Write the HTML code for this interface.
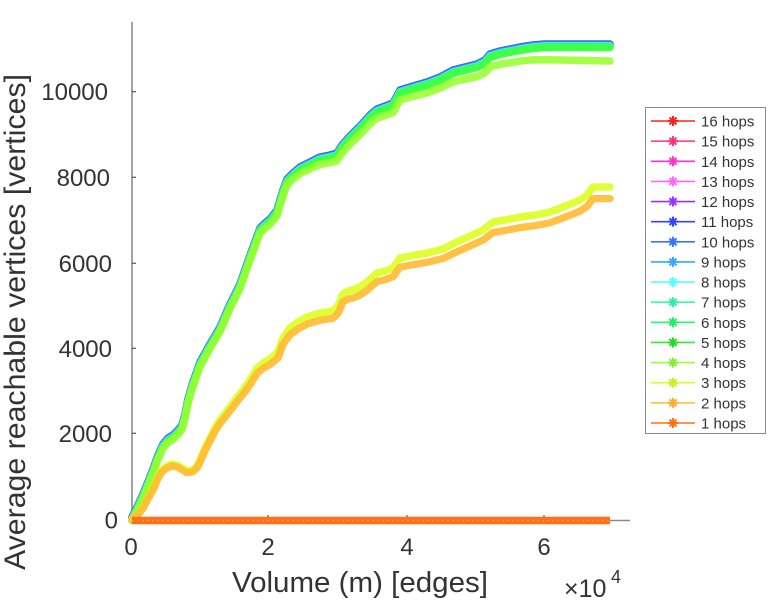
<!DOCTYPE html>
<html>
<head>
<meta charset="utf-8">
<style>
  html,body{margin:0;padding:0;background:#fff;}
  svg{display:block;}
  text{font-family:"Liberation Sans",Arial,sans-serif;fill:#333;}
</style>
</head>
<body>
<svg width="768" height="600" viewBox="0 0 768 600" xmlns="http://www.w3.org/2000/svg">
  <defs>
    <path id="up" fill="none" stroke-linejoin="round" stroke-linecap="round" d="M132,520 L138,508 L143,497 L148,485 L153,472 L158,458 L163,447 L168,441 L173,438 L178,433 L182,428 L185,417 L188,402 L192,388 L200,365 L210,347 L220,330 L230,307 L240,287 L247,267 L253,250 L260,231 L265,226 L270,222 L277,213 L283,193 L287,182 L293,176 L300,170 L310,165 L320,160 L330,158 L337,156 L342,148 L350,139 L360,129 L370,118 L377,112 L385,109 L393,106 L400,93 L410,90 L427,85 L440,80 L453,73 L465,70 L477,67 L485,63 L490,57 L500,54 L510,52 L520,50 L533,48 L545,47 L560,47 L610,47"/>
    <path id="up4" fill="none" stroke-linejoin="round" stroke-linecap="round" d="M132,520 L138,509.5 L143,498.5 L148,486.5 L153,473.5 L158,459.5 L163,448.5 L168,442.5 L173,439.5 L178,434.5 L182,429.5 L185,418.5 L188,403.5 L192,389.5 L200,366.5 L210,348.5 L220,331.5 L230,308.5 L240,288.5 L247,268.5 L253,252.1 L260,233.3 L265,228.5 L270,224.7 L277,215.9 L283,196.1 L287,185.2 L293,179.4 L300,173.7 L310,169 L320,164.3 L330,162.7 L337,160.9 L342,153.1 L350,144.3 L360,134.7 L370,124 L377,118.2 L385,115.5 L393,112.8 L400,100 L410,97.3 L427,92.9 L440,88.3 L453,81.8 L465,79.2 L477,76.6 L485,72.8 L490,67 L500,64.3 L510,62.7 L520,61 L533,59.8 L545,59.8 L560,60 L610,61"/>
    <path id="lo" fill="none" stroke-linejoin="round" stroke-linecap="round" d="M132,519 L138,514 L143,508 L148,498 L153,489 L158,477 L162,470 L167,466 L172,464 L177,465 L182,468 L187,471 L193,470 L197,466 L200,460 L205,448 L210,438 L215,428 L220,420 L227,411 L233,403 L238,396 L243,390 L250,380 L257,368 L263,363 L270,359 L278,352 L283,338 L290,328 L298,322 L307,317 L320,313 L333,311 L338,306 L343,294 L348,291 L353,290 L360,287 L367,282 L377,273 L385,271 L393,268 L400,258 L410,256 L427,253 L443,249 L457,242 L470,236 L483,230 L493,222 L505,220 L520,217 L535,215 L550,212 L563,207 L573,203 L580,200 L587,195 L593,187 L610,187"/>
  </defs>

  <!-- axes -->
  <line x1="132" y1="22" x2="132" y2="520.5" stroke="#8a8a8a" stroke-width="1.6"/>
  <line x1="132" y1="520.5" x2="630" y2="520.5" stroke="#8a8a8a" stroke-width="1.6"/>
  <g stroke="#555" stroke-width="1.2">
    <line x1="132" y1="433.3" x2="136" y2="433.3"/>
    <line x1="132" y1="348.3" x2="136" y2="348.3"/>
    <line x1="132" y1="263.3" x2="136" y2="263.3"/>
    <line x1="132" y1="177.3" x2="136" y2="177.3"/>
    <line x1="132" y1="91.7" x2="136" y2="91.7"/>
    <line x1="268" y1="520" x2="268" y2="515"/>
    <line x1="407" y1="520" x2="407" y2="515"/>
    <line x1="544" y1="520" x2="544" y2="515"/>
  </g>

  <!-- series (drawn 16 -> 1) -->
  <g stroke-width="7.5" stroke-opacity="0.9">
    <use href="#up" stroke="#ff2020" transform="translate(0,-2)"/>
    <use href="#up" stroke="#ff3377" transform="translate(0,-2)"/>
    <use href="#up" stroke="#ff33cc" transform="translate(0,-2)"/>
    <use href="#up" stroke="#ff66ff" transform="translate(0,-2)"/>
    <use href="#up" stroke="#9933ff" transform="translate(0,-2.5)"/>
    <use href="#up" stroke="#3344ff" transform="translate(0,-3)"/>
    <use href="#up" stroke="#3377ff" transform="translate(0,-2.5)"/>
    <use href="#up" stroke="#33aaff" transform="translate(0,-1.5)"/>
    <use href="#up" stroke="#55ffff" transform="translate(0,-1)"/>
    <use href="#up" stroke="#33ffaa" transform="translate(0,-0.5)"/>
    <use href="#up" stroke="#22ff66" transform="translate(0,0)"/>
    <use href="#up" stroke="#44ff44" transform="translate(0,0.5)"/>
    <use href="#up4" stroke="#99ff33"/>
    <use href="#lo" stroke="#ddff22"/>
    <use href="#lo" stroke="#ffbb33" vector-effect="non-scaling-stroke" transform="translate(0,520) scale(1,0.965) translate(0,-520)"/>
  </g>
  <line x1="132" y1="520.5" x2="610" y2="520.5" stroke="#ff7018" stroke-width="7.5"/>
  <line x1="132" y1="520.5" x2="610" y2="520.5" stroke="#ff9a50" stroke-width="1" stroke-dasharray="2 3"/>

  <!-- y tick labels -->
  <g font-size="24" text-anchor="end">
    <text x="118" y="528.5">0</text>
    <text x="112" y="441.8">2000</text>
    <text x="112" y="356.8">4000</text>
    <text x="112" y="271.8">6000</text>
    <text x="110" y="185.8">8000</text>
    <text x="108" y="100.2">10000</text>
  </g>
  <!-- x tick labels -->
  <g font-size="24" text-anchor="middle">
    <text x="131" y="555">0</text>
    <text x="268" y="555">2</text>
    <text x="407" y="555">4</text>
    <text x="544" y="555">6</text>
  </g>
  <text x="564" y="597" font-size="25">×10</text>
  <text x="611" y="583" font-size="18">4</text>

  <!-- axis labels -->
  <text x="232" y="592" font-size="29" textLength="256" lengthAdjust="spacingAndGlyphs">Volume (m) [edges]</text>
  <text transform="translate(25,322) rotate(-90)" font-size="30" text-anchor="middle" textLength="496" lengthAdjust="spacingAndGlyphs">Average reachable vertices [vertices]</text>

  <!-- legend -->
  <rect x="645.5" y="107.5" width="120" height="326" fill="#fff" stroke="#8a8a8a" stroke-width="1"/>
  <g font-size="15">
    <g transform="translate(0,121)"><line x1="651" x2="695" y1="0" y2="0" stroke="#ff2020" stroke-width="1.6"/><path d="M668,0h10M673,-5v10M669.5,-3.5l7,7M676.5,-3.5l-7,7" stroke="#ff2020" stroke-width="2"/><text x="701" y="5.5">16 hops</text></g>
    <g transform="translate(0,141.13)"><line x1="651" x2="695" y1="0" y2="0" stroke="#ff3377" stroke-width="1.6"/><path d="M668,0h10M673,-5v10M669.5,-3.5l7,7M676.5,-3.5l-7,7" stroke="#ff3377" stroke-width="2"/><text x="701" y="5.5">15 hops</text></g>
    <g transform="translate(0,161.27)"><line x1="651" x2="695" y1="0" y2="0" stroke="#ff33cc" stroke-width="1.6"/><path d="M668,0h10M673,-5v10M669.5,-3.5l7,7M676.5,-3.5l-7,7" stroke="#ff33cc" stroke-width="2"/><text x="701" y="5.5">14 hops</text></g>
    <g transform="translate(0,181.4)"><line x1="651" x2="695" y1="0" y2="0" stroke="#ff66ff" stroke-width="1.6"/><path d="M668,0h10M673,-5v10M669.5,-3.5l7,7M676.5,-3.5l-7,7" stroke="#ff66ff" stroke-width="2"/><text x="701" y="5.5">13 hops</text></g>
    <g transform="translate(0,201.53)"><line x1="651" x2="695" y1="0" y2="0" stroke="#9933ff" stroke-width="1.6"/><path d="M668,0h10M673,-5v10M669.5,-3.5l7,7M676.5,-3.5l-7,7" stroke="#9933ff" stroke-width="2"/><text x="701" y="5.5">12 hops</text></g>
    <g transform="translate(0,221.67)"><line x1="651" x2="695" y1="0" y2="0" stroke="#3344ff" stroke-width="1.6"/><path d="M668,0h10M673,-5v10M669.5,-3.5l7,7M676.5,-3.5l-7,7" stroke="#3344ff" stroke-width="2"/><text x="701" y="5.5">11 hops</text></g>
    <g transform="translate(0,241.8)"><line x1="651" x2="695" y1="0" y2="0" stroke="#3377ff" stroke-width="1.6"/><path d="M668,0h10M673,-5v10M669.5,-3.5l7,7M676.5,-3.5l-7,7" stroke="#3377ff" stroke-width="2"/><text x="701" y="5.5">10 hops</text></g>
    <g transform="translate(0,261.93)"><line x1="651" x2="695" y1="0" y2="0" stroke="#33aaff" stroke-width="1.6"/><path d="M668,0h10M673,-5v10M669.5,-3.5l7,7M676.5,-3.5l-7,7" stroke="#33aaff" stroke-width="2"/><text x="701" y="5.5">9 hops</text></g>
    <g transform="translate(0,282.07)"><line x1="651" x2="695" y1="0" y2="0" stroke="#55ffff" stroke-width="1.6"/><path d="M668,0h10M673,-5v10M669.5,-3.5l7,7M676.5,-3.5l-7,7" stroke="#55ffff" stroke-width="2"/><text x="701" y="5.5">8 hops</text></g>
    <g transform="translate(0,302.2)"><line x1="651" x2="695" y1="0" y2="0" stroke="#33ffaa" stroke-width="1.6"/><path d="M668,0h10M673,-5v10M669.5,-3.5l7,7M676.5,-3.5l-7,7" stroke="#33eeaa" stroke-width="2"/><text x="701" y="5.5">7 hops</text></g>
    <g transform="translate(0,322.33)"><line x1="651" x2="695" y1="0" y2="0" stroke="#22ff66" stroke-width="1.6"/><path d="M668,0h10M673,-5v10M669.5,-3.5l7,7M676.5,-3.5l-7,7" stroke="#22ee66" stroke-width="2"/><text x="701" y="5.5">6 hops</text></g>
    <g transform="translate(0,342.47)"><line x1="651" x2="695" y1="0" y2="0" stroke="#33ee33" stroke-width="1.6"/><path d="M668,0h10M673,-5v10M669.5,-3.5l7,7M676.5,-3.5l-7,7" stroke="#22dd22" stroke-width="2"/><text x="701" y="5.5">5 hops</text></g>
    <g transform="translate(0,362.6)"><line x1="651" x2="695" y1="0" y2="0" stroke="#99ff33" stroke-width="1.6"/><path d="M668,0h10M673,-5v10M669.5,-3.5l7,7M676.5,-3.5l-7,7" stroke="#88ee33" stroke-width="2"/><text x="701" y="5.5">4 hops</text></g>
    <g transform="translate(0,382.73)"><line x1="651" x2="695" y1="0" y2="0" stroke="#ddff22" stroke-width="1.6"/><path d="M668,0h10M673,-5v10M669.5,-3.5l7,7M676.5,-3.5l-7,7" stroke="#ccee22" stroke-width="2"/><text x="701" y="5.5">3 hops</text></g>
    <g transform="translate(0,402.87)"><line x1="651" x2="695" y1="0" y2="0" stroke="#ffbb33" stroke-width="1.6"/><path d="M668,0h10M673,-5v10M669.5,-3.5l7,7M676.5,-3.5l-7,7" stroke="#ffaa33" stroke-width="2"/><text x="701" y="5.5">2 hops</text></g>
    <g transform="translate(0,423)"><line x1="651" x2="695" y1="0" y2="0" stroke="#ff7018" stroke-width="1.6"/><path d="M668,0h10M673,-5v10M669.5,-3.5l7,7M676.5,-3.5l-7,7" stroke="#ff7018" stroke-width="2"/><text x="701" y="5.5">1 hops</text></g>
  </g>
</svg>
</body>
</html>
